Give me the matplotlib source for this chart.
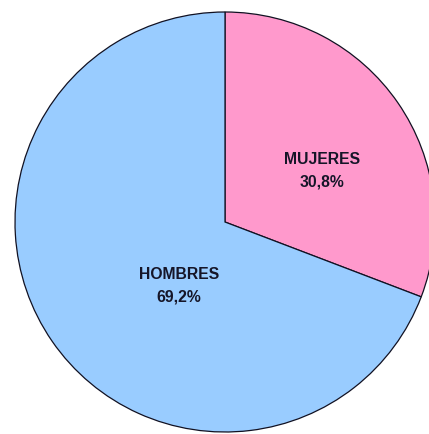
import matplotlib
matplotlib.use("Agg")
import matplotlib.pyplot as plt

# Distribución por sexo
categories = ["MUJERES", "HOMBRES"]
shares = [30.8, 69.2]
colors = ["#FF99CC", "#99CCFF"]

W, H = 429, 434
fig = plt.figure(figsize=(W / 100, H / 100), dpi=100)
ax = fig.add_axes([0, 0, 1, 1])

cx, cy, r = 225, H - 222, 210
ax.pie(shares, colors=colors, startangle=90, counterclock=False,
       center=(cx, cy), radius=r,
       wedgeprops=dict(edgecolor="#111122", linewidth=0.9))

ax.set_xlim(0, W)
ax.set_ylim(0, H)
ax.set_aspect("equal")
ax.axis("off")

label_pos = [(322, H - 170.5), (179, H - 286)]
for name, val, (x, y) in zip(categories, shares, label_pos):
    txt = f"{name}\n{val:.1f}%".replace(".", ",")
    ax.text(x, y, txt, ha="center", va="center", fontsize=11.3,
            fontweight="bold", family="Liberation Sans", color="#151528",
            linespacing=1.62)

fig.savefig("out.png", dpi=100)
